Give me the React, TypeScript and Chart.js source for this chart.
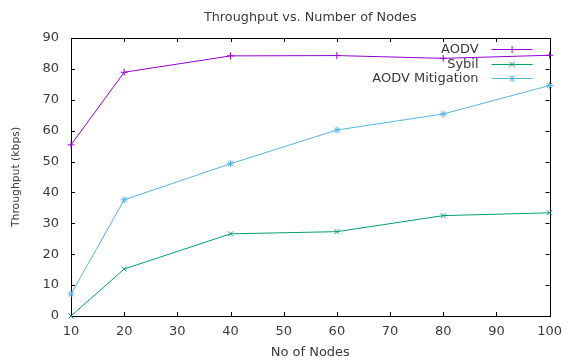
import React, { useEffect, useRef } from "react";
import { Chart, registerables } from "chart.js";

Chart.register(...registerables);

const nodes = [10, 20, 40, 60, 80, 100];
const aodv = [55.4, 78.9, 84.2, 84.3, 83.4, 84.4];
const sybil = [0, 15.2, 26.6, 27.3, 32.5, 33.4];
const mitigation = [7.1, 37.6, 49.3, 60.2, 65.4, 74.6];
const seriesNames = ["AODV", "Sybil", "AODV Mitigation"];
const seriesColors = ["#9400d3", "#009e73", "#56b4e9"];
const seriesMarkers = ["cross", "crossRot", "star"];

const FONT = "DejaVu Sans";
const TEXT = "#3a3a3a";

function drawMarker(ctx: CanvasRenderingContext2D, kind: string, x: number, y: number, r: number) {
  ctx.beginPath();
  if (kind === "cross" || kind === "star") {
    ctx.moveTo(x - r, y); ctx.lineTo(x + r, y);
    ctx.moveTo(x, y - r); ctx.lineTo(x, y + r);
  }
  if (kind === "crossRot" || kind === "star") {
    const d = r * 0.8;
    ctx.moveTo(x - d, y - d); ctx.lineTo(x + d, y + d);
    ctx.moveTo(x - d, y + d); ctx.lineTo(x + d, y - d);
  }
  ctx.stroke();
}

const framePlugin = {
  id: "frame",
  beforeDatasetsDraw(chart: any) {
    const { ctx, chartArea } = chart;
    const { left, right, top, bottom } = chartArea;
    const xs = chart.scales.x;
    const ys = chart.scales.y;
    ctx.save();
    ctx.strokeStyle = "#000";
    ctx.lineWidth = 1;
    ctx.strokeRect(Math.round(left) + 0.5, Math.round(top) + 0.5, Math.round(right - left), Math.round(bottom - top));
    const t = 4;
    ctx.beginPath();
    xs.ticks.forEach((tk: any) => {
      const px = Math.round(xs.getPixelForValue(tk.value)) + 0.5;
      ctx.moveTo(px, bottom); ctx.lineTo(px, bottom - t);
      ctx.moveTo(px, top); ctx.lineTo(px, top + t);
    });
    ys.ticks.forEach((tk: any) => {
      const py = Math.round(ys.getPixelForValue(tk.value)) + 0.5;
      ctx.moveTo(left, py); ctx.lineTo(left + t, py);
      ctx.moveTo(right, py); ctx.lineTo(right - t, py);
    });
    ctx.stroke();
    ctx.restore();
  },
  afterDraw(chart: any) {
    const { ctx, chartArea } = chart;
    const { right, top } = chartArea;
    ctx.save();
    ctx.font = `13px "${FONT}"`;
    ctx.textAlign = "right";
    ctx.textBaseline = "middle";
    seriesNames.forEach((name, i) => {
      const y = Math.round(top + 11 + i * 14.6) + 0.5;
      ctx.fillStyle = TEXT;
      ctx.fillText(name, right - 71, y);
      ctx.strokeStyle = seriesColors[i];
      ctx.lineWidth = 1;
      ctx.beginPath();
      ctx.moveTo(right - 58, y);
      ctx.lineTo(right - 17, y);
      ctx.stroke();
      drawMarker(ctx, seriesMarkers[i], right - 37.5, y, 3.5);
    });
    ctx.restore();
  },
};

export default function App() {
  const ref = useRef<HTMLCanvasElement | null>(null);
  useEffect(() => {
    document.body.style.margin = "0";
    const canvas = ref.current!;
    const series = [aodv, sybil, mitigation];
    const chart = new Chart(canvas, {
      type: "line",
      data: {
        datasets: series.map((vals, i) => ({
          label: seriesNames[i],
          data: nodes.map((n, j) => ({ x: n, y: vals[j] })),
          borderColor: seriesColors[i],
          backgroundColor: seriesColors[i],
          borderWidth: 1,
          pointStyle: seriesMarkers[i] as any,
          pointRadius: 3.5,
          pointBorderWidth: 1,
          tension: 0,
          clip: false as any,
        })),
      },
      options: {
        animation: false,
        responsive: false,
        devicePixelRatio: 1,
        layout: { padding: { left: 0, right: 12, top: 0, bottom: 0 } },
        plugins: {
          legend: { display: false },
          tooltip: { enabled: false },
          title: {
            display: true,
            fullSize: false,
            text: "Throughput vs. Number of Nodes",
            color: TEXT,
            font: { family: FONT, size: 12.8, weight: "normal" },
            padding: { top: 10, bottom: 12.6 },
          },
        },
        scales: {
          x: {
            type: "linear",
            min: 10,
            max: 100,
            grid: { display: false, drawTicks: false, tickLength: 0 },
            border: { display: false },
            ticks: {
              stepSize: 10,
              color: TEXT,
              padding: 8,
              maxRotation: 0,
              font: { family: FONT, size: 13 },
            },
            title: {
              display: true,
              text: "No of Nodes",
              color: TEXT,
              font: { family: FONT, size: 13 },
              padding: { top: 2, bottom: 1 },
            },
            afterFit: (s: any) => { s.height = 45; },
          },
          y: {
            min: 0,
            max: 90,
            grid: { display: false, drawTicks: false, tickLength: 0 },
            border: { display: false },
            ticks: {
              stepSize: 10,
              color: TEXT,
              padding: 12,
              font: { family: FONT, size: 13 },
            },
            title: {
              display: true,
              text: "Throughput (kbps)",
              color: TEXT,
              font: { family: FONT, size: 10.8 },
              padding: { top: 10, bottom: 0 },
            },
            afterFit: (s: any) => { s.width = 71; },
          },
        },
      },
      plugins: [framePlugin],
    });
    return () => chart.destroy();
  }, []);
  return (
    <div style={{ position: "absolute", left: 0, top: 0, width: 570, height: 361 }}>
      <canvas ref={ref} width={570} height={361} style={{ width: 570, height: 361, display: "block" }} />
    </div>
  );
}
